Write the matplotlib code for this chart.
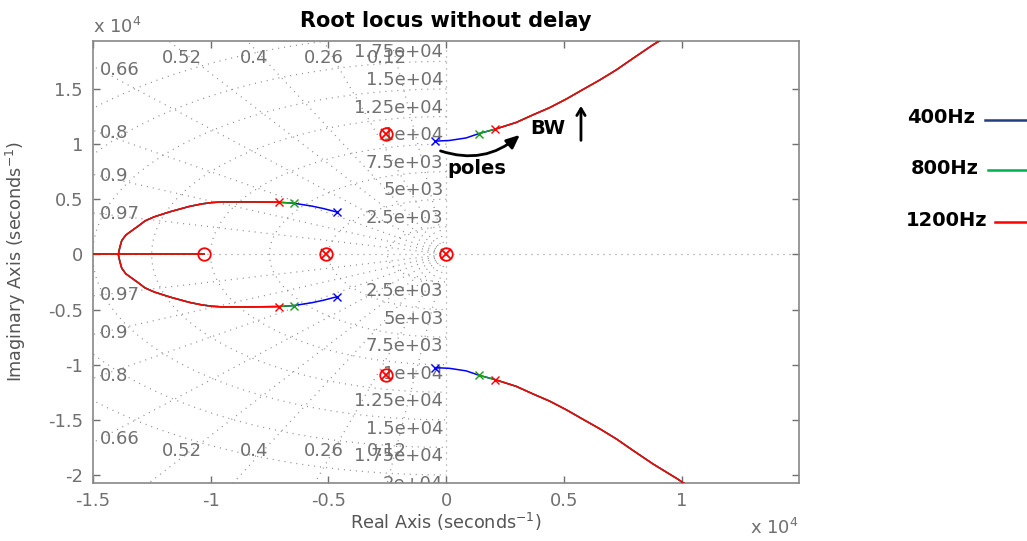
import numpy as np
import matplotlib
matplotlib.use("Agg")
import matplotlib.pyplot as plt

plt.rcParams['font.family'] = ['DejaVu Sans']
plt.rcParams['axes.unicode_minus'] = False

# ---------------- data ----------------
zeta_values = [0.12, 0.26, 0.4, 0.52, 0.66, 0.8, 0.9, 0.97]
wn_values = [2500, 5000, 7500, 10000, 12500, 15000, 17500, 20000]
wn_labels = ['2.5e+03', '5e+03', '7.5e+03', '1e+04', '1.25e+04', '1.5e+04', '1.75e+04', '2e+04']

series_names = ['400Hz', '800Hz', '1200Hz']
series_colors = ['#0000ff', '#1a9e1a', '#ff0000']
legend_colors = ['#1f3f7f', '#00b050', '#ff0000']

# open-loop poles of each series (upper half; mirrored below)
left_pole_re = [-4640, -6470, -7110]
left_pole_im = [3840, 4640, 4730]
right_pole_re = [-480, 1390, 2060]
right_pole_im = [10270, 10960, 11350]

# common locus branches (upper half)
left_path_re = [-4640, -5200, -5690, -6470, -7110, -8300, -9520, -9950, -10370, -10900,
                -11360, -11700, -12070, -12400, -12780, -13050, -13350, -13600, -13770, -13850, -13915]
left_path_im = [3840, 4150, 4375, 4640, 4730, 4760, 4760, 4700, 4580, 4350,
                4080, 3880, 3630, 3400, 3040, 2600, 2140, 1750, 1250, 650, 0]
right_path_re = [-480, 130, 840, 1390, 2060, 2965, 3674, 4383, 5100, 5787, 6500, 7220,
                 7915, 8766, 9800, 10600]
right_path_im = [10270, 10330, 10560, 10960, 11350, 11964, 12650, 13304, 14100, 14940,
                 15800, 16740, 17768, 19000, 20350, 21500]
real_locus_re = [-16500, -10300]

# zeros and pole/zero cancellations
zero_re = [-10300]
zero_im = [0]
cancel_re = [-5100, 0, -2550, -2550]
cancel_im = [0, 0, 10900, -10900]

x_ticks = [-1.5, -1, -0.5, 0, 0.5, 1]
y_ticks = [-2, -1.5, -1, -0.5, 0, 0.5, 1, 1.5]
scale = 1e4

# ---------------- figure ----------------
fig = plt.figure(figsize=(10.27, 5.41), dpi=100)
ax = fig.add_axes([0.0903, 0.1078, 0.6874, 0.8164])
xmin, xmax = -15000, 14950
ymin, ymax = -20700, 19350
ax.set_xlim(xmin, xmax)
ax.set_ylim(ymin, ymax)

gray = '#707070'
gcol = '#8c8c8c'
dash = (0, (0.8, 4.0))

# damping-ratio rays
R = 60000
for z in zeta_values:
    s = np.sqrt(1 - z * z)
    for sg in (1, -1):
        ax.plot([0, -z * R], [0, sg * s * R], color=gcol, lw=0.9, ls=dash, zorder=1)
# natural frequency semicircles
th = np.linspace(np.pi / 2, 3 * np.pi / 2, 300)
for wn in wn_values:
    ax.plot(wn * np.cos(th), wn * np.sin(th), color=gcol, lw=0.9, ls=dash, zorder=1)
ax.plot([xmin, xmax], [0, 0], color=gcol, lw=0.9, ls=dash, zorder=1)
ax.plot([0, 0], [ymin, ymax], color=gcol, lw=0.9, ls=dash, zorder=1)

# damping labels
lx = -14703
ty = 17806
for z in zeta_values:
    s = np.sqrt(1 - z * z)
    yl = -lx / z * s
    for sg in (1, -1):
        if yl < ty:
            ax.text(lx, sg * yl, '%g' % z, ha='left', va='center', fontsize=13,
                    color=gray, clip_on=True, zorder=2)
        else:
            xl = -z * ty / s
            ax.annotate('%g' % z, (xl, sg * ty), xytext=(-9, 0), textcoords='offset pixels',
                        ha='center', va='center', fontsize=13, color=gray,
                        annotation_clip=False, zorder=2)
# frequency labels (only where the anchor lies inside the axes)
for wn, lab in zip(wn_values, wn_labels):
    if wn < ymax:
        ax.text(-120, wn, lab, ha='right', va='bottom', fontsize=13, color=gray,
                clip_on=True, zorder=2)
    if -wn > ymin:
        ax.text(-120, -wn, lab, ha='right', va='top', fontsize=13, color=gray,
                clip_on=True, zorder=2)

# loci
for i, (name, col) in enumerate(zip(series_names, series_colors)):
    lre = [left_pole_re[i]] + [r for r in left_path_re if r < left_pole_re[i]]
    lim = [left_pole_im[i]] + [m for r, m in zip(left_path_re, left_path_im) if r < left_pole_re[i]]
    rre = [right_pole_re[i]] + [r for r in right_path_re if r > right_pole_re[i]]
    rim = [right_pole_im[i]] + [m for r, m in zip(right_path_re, right_path_im) if r > right_pole_re[i]]
    lre, lim, rre, rim = map(np.array, (lre, lim, rre, rim))
    z = 3 + i
    kw = dict(color=col, lw=1.1, zorder=z, solid_joinstyle='round')
    ax.plot(lre, lim, **kw)
    ax.plot(lre, -lim, **kw)
    ax.plot(rre, rim, **kw)
    ax.plot(rre, -rim, **kw)
    ax.plot(real_locus_re, [0, 0], **kw)
    pr = [left_pole_re[i], left_pole_re[i], right_pole_re[i], right_pole_re[i]]
    pi_ = [left_pole_im[i], -left_pole_im[i], right_pole_im[i], -right_pole_im[i]]
    ax.plot(pr, pi_, ls='none', marker='x', ms=6, mew=1.0, color=col, zorder=z)

ax.plot(zero_re, zero_im, ls='none', marker='o', ms=9, mfc='none', mec='#ff0000', mew=1.3, zorder=7)
ax.plot(cancel_re, cancel_im, ls='none', marker='o', ms=9, mfc='none', mec='#ff0000', mew=1.3, zorder=7)
ax.plot(cancel_re, cancel_im, ls='none', marker='x', ms=6.5, mec='#ff0000', mew=1.3, zorder=7)

# axes styling
ax.set_xticks([t * scale for t in x_ticks])
ax.set_xticklabels(['%g' % t for t in x_ticks])
ax.set_yticks([t * scale for t in y_ticks])
ax.set_yticklabels(['%g' % t for t in y_ticks])
ax.tick_params(direction='in', top=True, right=True, length=5, width=1, color=gray,
               labelcolor=gray, labelsize=13, pad=7)
for sp in ax.spines.values():
    sp.set_color('#888888')
    sp.set_linewidth(1.2)
ax.set_xlabel('Real Axis (seconds$^{-1}$)', fontsize=12.7, color='#555555', labelpad=0)
ax.set_ylabel('Imaginary Axis (seconds$^{-1}$)', fontsize=12.7, color='#555555', labelpad=14)
ax.set_title('Root locus without delay', fontsize=15, fontweight='bold', pad=10)

ax.text(0.0, 1.01, 'x 10$^{4}$', transform=ax.transAxes, ha='left', va='bottom',
        fontsize=13, color=gray)
ax.text(1.0, -0.08, 'x 10$^{4}$', transform=ax.transAxes, ha='right', va='top',
        fontsize=13, color=gray)

# annotations
ax.annotate('', xy=(3209, 11006), xytext=(-357, 9465),
            arrowprops=dict(arrowstyle='-|>,head_length=0.8,head_width=0.35', color='black',
                            lw=2, connectionstyle='arc3,rad=0.3'), zorder=9)
ax.text(1307, 7817, 'poles', ha='center', va='center', fontsize=14, fontweight='bold', zorder=9)
ax.text(4312, 11460, 'BW', ha='center', va='center', fontsize=14, fontweight='bold', zorder=9)
ax.annotate('', xy=(5713, 13717), xytext=(5713, 10090),
            arrowprops=dict(arrowstyle='->,head_length=0.5,head_width=0.3', color='black', lw=2),
            zorder=9)

# legend-like labels
leg_y = [0.782, 0.689, 0.593]
leg_x = [0.916, 0.9197, 0.922]
leg_line_x0 = [0.959, 0.962, 0.969]
for name, col, y, x, x0 in zip(series_names, legend_colors, leg_y, leg_x, leg_line_x0):
    fig.text(x, y, name, ha='center', va='center', fontsize=14, fontweight='bold')
    fig.add_artist(plt.Line2D([x0, 1.0], [y - 0.004, y - 0.004], color=col, lw=1.8,
                              transform=fig.transFigure))

fig.savefig('out.png', dpi=100)
